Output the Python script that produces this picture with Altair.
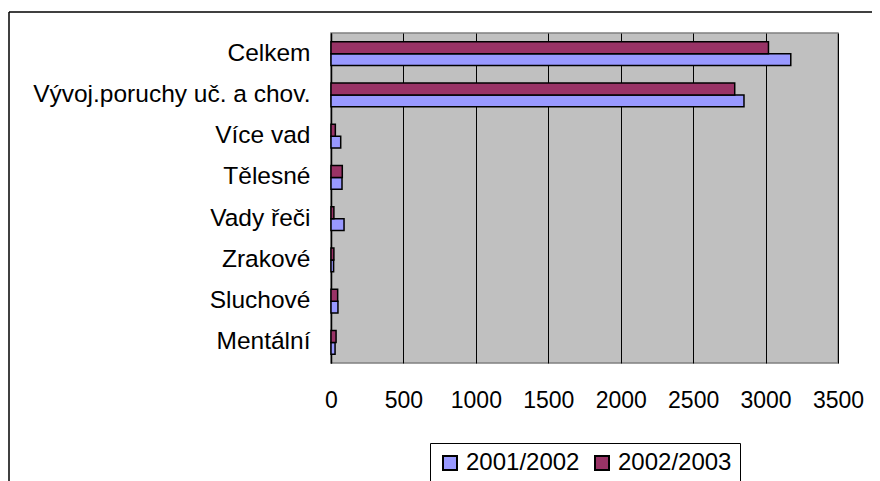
import altair as alt
import pandas as pd

categories = ["Celkem", "Vývoj.poruchy uč. a chov.", "Více vad", "Tělesné",
              "Vady řeči", "Zrakové", "Sluchové", "Mentální"]
series = ["2001/2002", "2002/2003"]
v2001 = [3174, 2851, 67, 76, 90, 18, 48, 28]
v2002 = [3020, 2787, 30, 78, 20, 20, 46, 35]
x_ticks = [0, 500, 1000, 1500, 2000, 2500, 3000, 3500]

rows = []
for c, a, b in zip(categories, v2001, v2002):
    rows.append({"kat": c, "rok": series[0], "pocet": a})
    rows.append({"kat": c, "rok": series[1], "pocet": b})
df = pd.DataFrame(rows)

FONT = "Liberation Sans"

bars = alt.Chart(df).mark_bar(stroke="black", strokeWidth=1.5).encode(
    y=alt.Y("kat:N", sort=categories, title=None,
            scale=alt.Scale(paddingInner=0.43, paddingOuter=0.215),
            axis=alt.Axis(labelFont=FONT, labelFontSize=24.5, labelColor="black",
                          ticks=False, tickSize=0, labelPadding=21,
                          domainColor="black", domainWidth=1.5, grid=False,
                          labelLimit=400)),
    yOffset=alt.YOffset("rok:N", sort=[series[1], series[0]],
                        scale=alt.Scale(paddingInner=0, paddingOuter=0)),
    x=alt.X("pocet:Q", title=None,
            scale=alt.Scale(domain=[0, 3500], nice=False),
            axis=alt.Axis(values=x_ticks, format="d", labelFont=FONT, labelFontSize=23,
                          labelColor="black", ticks=False, tickSize=0,
                          labelPadding=26, domain=False, grid=True,
                          gridColor="black", gridWidth=1, gridOpacity=1,
                          labelFlush=False)),
    color=alt.Color("rok:N", scale=alt.Scale(domain=series, range=["#9999FF", "#993366"]),
                    legend=alt.Legend(title=None, orient="none", legendX=99, legendY=410,
                                      direction="horizontal", symbolType="square",
                                      symbolSize=196, symbolStrokeColor="black",
                                      symbolStrokeWidth=2, labelFont=FONT,
                                      labelFontSize=24, labelColor="black",
                                      strokeColor="black", fillColor="white",
                                      padding=8, columnPadding=10, labelOffset=4)),
)

frame_df = pd.DataFrame({"a": [0]})
top_line = alt.Chart(frame_df).mark_rule(color="black", strokeWidth=1.5).encode(
    x=alt.value(-322), x2=alt.value(560), y=alt.value(-21))
left_line = alt.Chart(frame_df).mark_rule(color="black", strokeWidth=1.5).encode(
    x=alt.value(-322), y=alt.value(-21), y2=alt.value(460))

chart = alt.layer(bars, top_line, left_line).properties(
    width=507, height=330,
    autosize=alt.AutoSizeParams(type="none"),
    padding={"left": 323, "top": 25, "right": 34, "bottom": 118},
    background="white",
).configure_view(fill="#C0C0C0", stroke="#808080", strokeWidth=1.5)

chart.save("out.html", embed_options={"renderer": "svg", "actions": False})
